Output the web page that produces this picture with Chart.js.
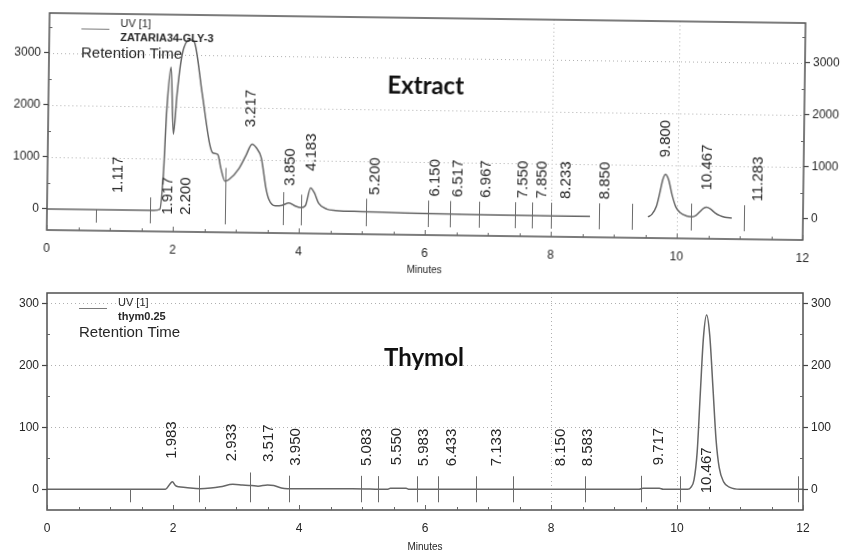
<!DOCTYPE html>
<html><head><meta charset="utf-8">
<script src="https://cdn.jsdelivr.net/npm/chart.js@4.4.1/dist/chart.umd.min.js"></script>
<style>
html,body{margin:0;padding:0;background:#fff;width:846px;height:551px;overflow:hidden;}
#wrapTop{position:absolute;left:0;top:0;width:846px;height:280px;transform:rotate(0.76deg);transform-origin:47px 209px;}
#wrapBot{position:absolute;left:0;top:280px;width:846px;height:271px;}
canvas{display:block;}
</style></head><body>
<div id="wrapTop"><canvas id="top" width="846" height="280"></canvas></div>
<div id="wrapBot"><canvas id="bot" width="846" height="271"></canvas></div>
<script>
// ---------- DATA ----------
const X_TITLE = 'Minutes';
const X_TICKS = [0, 2, 4, 6, 8, 10, 12];
const X_GRID = [8, 10];

// Extract chromatogram
const EX_TITLE = 'Extract';
const EX_LEGEND = ['UV [1]', 'ZATARIA34-GLY-3', 'Retention Time'];
const EX_Y_TICKS = [0, 1000, 2000, 3000];
const EX_TIME = [0, 1.70, 1.79, 1.84, 1.88, 1.94, 1.99, 2.04, 2.09, 2.14, 2.25, 2.30, 2.44, 2.57, 2.62, 2.70, 2.75, 2.82, 2.88, 3.04, 3.15, 3.24, 3.31, 3.39, 3.42, 3.47, 3.52, 3.62, 3.73, 3.84, 3.94, 4.03, 4.10, 4.18, 4.24, 4.31, 4.44, 4.58, 5.00, 5.50, 6.00, 7.00, 8.00, 8.62, 9.00, 9.54, 9.60, 9.67, 9.72, 9.77, 9.81, 9.86, 9.92, 9.98, 10.05, 10.15, 10.24, 10.30, 10.36, 10.42, 10.47, 10.53, 10.60, 10.68, 10.76, 10.87];
const EX_SIGNAL = [0, 0, 20, 700, 1920, 2760, 1470, 2240, 2820, 3140, 3290, 3260, 2250, 1280, 1120, 1090, 830, 580, 610, 830, 1090, 1300, 1230, 1040, 840, 460, 240, 120, 130, 180, 120, 90, 130, 470, 380, 180, 70, 45, 30, 20, 10, 0, -5, -5, null, 0, 50, 200, 450, 730, 820, 720, 420, 200, 90, 30, 15, 40, 110, 180, 200, 170, 100, 45, 15, 0];
const EX_PEAK_RT = [1.117, 1.917, 2.200, 3.217, 3.850, 4.183, 5.200, 6.150, 6.517, 6.967, 7.550, 7.850, 8.233, 8.850, 9.800, 10.467, 11.283];
const EX_MARKS = [0.78, 1.64, 2.83, 3.74, 4.03, 5.07, 6.05, 6.40, 6.85, 7.43, 7.70, 8.00, 8.76, 9.29, 10.22, 11.06];

// Thymol chromatogram
const TH_TITLE = 'Thymol';
const TH_LEGEND = ['UV [1]', 'thym0.25', 'Retention Time'];
const TH_Y_TICKS = [0, 100, 200, 300];
const TH_TIME = [0, 1.88, 1.94, 1.99, 2.04, 2.09, 2.20, 2.43, 2.60, 2.75, 2.95, 3.10, 3.25, 3.35, 3.50, 3.60, 3.72, 3.82, 4.00, 4.85, 5.40, 5.45, 5.70, 5.75, 9.40, 9.46, 9.72, 9.78, 10.17, 10.22, 10.27, 10.32, 10.37, 10.42, 10.47, 10.52, 10.57, 10.62, 10.67, 10.74, 10.84, 11.00, 12.00];
const TH_SIGNAL = [0, 0, 7, 12, 6, 4, 3, 1, 2, 4, 8, 7, 6, 5, 7, 6, 2, 1, 1, 1, 0, 1.5, 1.5, 0, 0, 1.5, 1.5, 0, 0, 3, 15, 60, 155, 245, 281, 248, 165, 80, 35, 12, 3, 0, 0];
const TH_PEAK_RT = [1.983, 2.933, 3.517, 3.950, 5.083, 5.550, 5.983, 6.433, 7.133, 8.150, 8.583, 9.717, 10.467];
const TH_MARKS = [1.31, 2.41, 3.23, 3.84, 4.99, 5.25, 5.88, 6.21, 6.81, 7.39, 8.54, 9.43, 10.05, 11.92];

// ---------- HELPERS ----------
const FONT = '"Liberation Sans", Arial, sans-serif';
const TXT = '#262626';

function interp(ts, vs, t) {
  for (let i = 0; i < ts.length - 1; i++) {
    if (t >= ts[i] && t <= ts[i + 1]) {
      if (vs[i] == null || vs[i + 1] == null) return null;
      return vs[i] + (vs[i + 1] - vs[i]) * (t - ts[i]) / (ts[i + 1] - ts[i]);
    }
  }
  return null;
}
function apex(ts, vs, t, w) {
  let m = interp(ts, vs, t);
  for (let i = 0; i < ts.length; i++) {
    if (Math.abs(ts[i] - t) <= w && vs[i] != null) m = (m == null) ? vs[i] : Math.max(m, vs[i]);
  }
  return m == null ? 0 : Math.max(0, m);
}

function chromPlugin(cfg) {
  return {
    id: 'chrom_' + cfg.key,
    beforeDatasetsDraw(chart) {
      const { ctx, chartArea: a, scales: { x, y } } = chart;
      ctx.save();
      ctx.strokeStyle = '#b0b0b0'; ctx.lineWidth = 1; ctx.setLineDash([1, 3]);
      cfg.yTicks.forEach(v => {
        if (v === 0) return;
        const py = Math.round(y.getPixelForValue(v)) + 0.5;
        ctx.beginPath(); ctx.moveTo(a.left, py); ctx.lineTo(a.right, py); ctx.stroke();
      });
      X_GRID.forEach(v => {
        const px = Math.round(x.getPixelForValue(v)) + 0.5;
        ctx.beginPath(); ctx.moveTo(px, a.top); ctx.lineTo(px, a.bottom); ctx.stroke();
      });
      ctx.restore();
    },
    afterDatasetsDraw(chart) {
      const { ctx, chartArea: a, scales: { x, y } } = chart;
      const y0 = y.getPixelForValue(0);
      ctx.save();
      // integration markers
      ctx.strokeStyle = '#6a6a6a'; ctx.lineWidth = 1;
      cfg.marks.forEach((m, i) => {
        const v = apex(cfg.time, cfg.signal, m, 0);
        const px = Math.round(x.getPixelForValue(m)) + 0.5;
        const top = i === 0 ? y0 : y.getPixelForValue(v) - 13;
        ctx.beginPath(); ctx.moveTo(px, top); ctx.lineTo(px, y0 + 13); ctx.stroke();
      });
      // peak labels (rotated)
      ctx.fillStyle = TXT;
      ctx.font = '15px ' + FONT;
      ctx.textAlign = 'left'; ctx.textBaseline = 'middle';
      cfg.peaks.forEach(rt => {
        const txt = rt.toFixed(3);
        const len = ctx.measureText(txt).width;
        const v = apex(cfg.time, cfg.signal, rt, 0.04);
        let bottom = y.getPixelForValue(v) - cfg.labelOffset;
        if (bottom - len < a.top + 20) bottom = y0 + 4;
        ctx.save();
        ctx.translate(x.getPixelForValue(rt), bottom);
        ctx.rotate(-Math.PI / 2);
        ctx.fillText(txt, 0, 0);
        ctx.restore();
      });
      ctx.restore();
    },
    afterDraw(chart) {
      const { ctx, chartArea: a, scales: { x, y } } = chart;
      ctx.save();
      // frame
      ctx.strokeStyle = '#505050'; ctx.lineWidth = 1.5;
      ctx.strokeRect(a.left, a.top, a.right - a.left, a.bottom - a.top);
      // minor / inner ticks
      ctx.lineWidth = 1; ctx.strokeStyle = '#666';
      for (let t = 0; t <= 12.001; t += 0.5) {
        const px = Math.round(x.getPixelForValue(t)) + 0.5;
        const len = (Math.abs(t % 2) < 1e-6) ? 5 : 3;
        ctx.beginPath(); ctx.moveTo(px, a.bottom); ctx.lineTo(px, a.bottom - len); ctx.stroke();
      }
      const step = cfg.yTicks[1] - cfg.yTicks[0];
      for (let v = step / 2; v < y.max; v += step) {
        const py = Math.round(y.getPixelForValue(v)) + 0.5;
        ctx.beginPath(); ctx.moveTo(a.left, py); ctx.lineTo(a.left + 3, py); ctx.stroke();
        ctx.beginPath(); ctx.moveTo(a.right, py); ctx.lineTo(a.right - 3, py); ctx.stroke();
      }
      // legend
      ctx.strokeStyle = '#7a7a7a'; ctx.lineWidth = 1;
      ctx.beginPath(); ctx.moveTo(a.left + 32, a.top + 15.5); ctx.lineTo(a.left + 60, a.top + 15.5); ctx.stroke();
      ctx.fillStyle = TXT; ctx.textAlign = 'left'; ctx.textBaseline = 'middle';
      ctx.font = '11px ' + FONT;
      ctx.fillText(cfg.legend[0], a.left + 71, a.top + 10);
      ctx.font = 'bold 11px ' + FONT;
      ctx.fillText(cfg.legend[1], a.left + 71, a.top + 24);
      ctx.font = '15px ' + FONT;
      ctx.fillText(cfg.legend[2], a.left + 32, a.top + 40);
      // sample title
      ctx.fillStyle = '#111'; ctx.textAlign = 'center';
      ctx.font = 'bold 24px Lato, "Open Sans", sans-serif';
      ctx.fillText(cfg.title, 424, cfg.titleY);
      ctx.restore();
    }
  };
}

function makeChart(id, cfg) {
  const yScale = (pos, w) => ({
    type: 'linear', position: pos, min: cfg.yMin, max: cfg.yMax,
    afterBuildTicks: s => { s.ticks = cfg.yTicks.map(v => ({ value: v })); },
    grid: { drawOnChartArea: false, drawTicks: true, tickLength: 5, tickColor: '#444', tickWidth: 1.2 },
    border: { display: false },
    ticks: { font: { family: FONT, size: 12 }, color: TXT, padding: 3, callback: v => String(v) },
    afterFit: s => { s.width = w; }
  });
  return new Chart(document.getElementById(id), {
    type: 'line',
    data: {
      datasets: [{
        label: cfg.legend[1],
        data: cfg.time.map((t, i) => ({ x: t, y: cfg.signal[i] })),
        borderColor: '#666', borderWidth: 1.5, pointRadius: 0,
        cubicInterpolationMode: 'monotone', spanGaps: false, fill: false
      }]
    },
    options: {
      responsive: false, animation: false, devicePixelRatio: 1, events: [],
      layout: { padding: { top: 13, left: 0, right: 0, bottom: 0 } },
      plugins: { legend: { display: false }, tooltip: { enabled: false } },
      scales: {
        x: {
          type: 'linear', min: 0, max: 12,
          afterBuildTicks: s => { s.ticks = X_TICKS.map(v => ({ value: v })); },
          grid: { display: false, drawTicks: false }, border: { display: false },
          ticks: { font: { family: FONT, size: 12 }, color: TXT, padding: 11, maxRotation: 0, autoSkip: false, callback: v => String(v) },
          title: { display: true, text: X_TITLE, font: { family: FONT, size: 10 }, color: TXT, padding: { top: 0, bottom: cfg.titlePad } },
          afterFit: s => { s.height = cfg.xHeight; }
        },
        y: yScale('left', 47),
        y2: yScale('right', 43)
      }
    },
    plugins: [chromPlugin(cfg)]
  });
}

makeChart('top', {
  key: 'ex', time: EX_TIME, signal: EX_SIGNAL, peaks: EX_PEAK_RT, marks: EX_MARKS,
  yTicks: EX_Y_TICKS, yMin: -404, yMax: 3769, legend: EX_LEGEND, title: EX_TITLE,
  titleY: 81, labelOffset: 17, xHeight: 50, titlePad: 9
});
makeChart('bot', {
  key: 'th', time: TH_TIME, signal: TH_SIGNAL, peaks: TH_PEAK_RT, marks: TH_MARKS,
  yTicks: TH_Y_TICKS, yMin: -33.4, yMax: 316.6, legend: TH_LEGEND, title: TH_TITLE,
  titleY: 78, labelOffset: 23, xHeight: 41, titlePad: -2
});
</script></body></html>
